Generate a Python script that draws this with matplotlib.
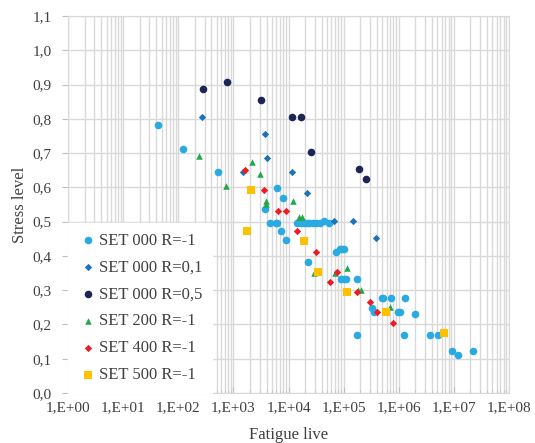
import matplotlib
matplotlib.use("Agg")
import matplotlib.pyplot as plt
from matplotlib.ticker import LogLocator, NullFormatter

# ---- data ----
set000_m1_N = [43, 123, 537, 6170, 7940, 3800, 4570, 6030, 6310, 7410, 9120,
               14500, 16600, 19100, 21400, 24000, 27500, 31600, 38000, 44700, 53700,
               22900, 74100, 85100, 93300, 102000, 89100, 100000, 110000, 178000,
               490000, 525000, 724000, 1290000, 324000, 355000, 955000, 1050000,
               2000000, 178000, 1260000, 3630000, 5250000, 9120000, 12000000, 22400000]
set000_m1_S = [0.782, 0.712, 0.645, 0.597, 0.568, 0.537, 0.497, 0.497, 0.497, 0.474, 0.447,
               0.497, 0.497, 0.497, 0.497, 0.497, 0.497, 0.497, 0.497, 0.503, 0.497,
               0.383, 0.412, 0.419, 0.419, 0.419, 0.332, 0.332, 0.332, 0.332,
               0.277, 0.277, 0.277, 0.277, 0.249, 0.235, 0.235, 0.235,
               0.230, 0.170, 0.170, 0.170, 0.170, 0.123, 0.110, 0.123]

set000_01_N = [275, 3800, 4070, 1480, 11700, 21900, 67600, 151000, 389000]
set000_01_S = [0.804, 0.755, 0.685, 0.644, 0.644, 0.583, 0.502, 0.502, 0.451]

set000_05_N = [285, 776, 3160, 11500, 16600, 25700, 191000, 257000]
set000_05_S = [0.886, 0.907, 0.856, 0.805, 0.805, 0.704, 0.654, 0.624]

set200_N = [238, 724, 2190, 3050, 3980, 3980, 12000, 15500, 17800, 29500, 69200,
            117000, 182000, 204000, 692000]
set200_S = [0.692, 0.604, 0.674, 0.639, 0.561, 0.551, 0.561, 0.514, 0.514, 0.351, 0.351,
            0.366, 0.300, 0.300, 0.250]

set400_N = [1620, 3630, 6380, 8910, 14100, 31600, 75900, 57500, 174000, 295000, 398000, 776000]
set400_S = [0.650, 0.591, 0.532, 0.532, 0.473, 0.412, 0.353, 0.324, 0.295, 0.265, 0.235, 0.205]

set500_N = [2090, 1740, 19500, 34700, 117000, 575000, 6610000]
set500_S = [0.591, 0.474, 0.444, 0.353, 0.296, 0.235, 0.176]

labels = ["SET 000 R=-1", "SET 000 R=0,1", "SET 000 R=0,5",
          "SET 200 R=-1", "SET 400 R=-1", "SET 500 R=-1"]
x_ticklabels = ["1,E+00", "1,E+01", "1,E+02", "1,E+03", "1,E+04",
                "1,E+05", "1,E+06", "1,E+07", "1,E+08"]
y_ticklabels = ["0,0", "0,1", "0,2", "0,3", "0,4", "0,5", "0,6",
                "0,7", "0,8", "0,9", "1,0", "1,1"]

# ---- figure ----
plt.rcParams['font.family'] = ['Liberation Serif', 'DejaVu Serif']
fig = plt.figure(figsize=(5.35, 4.43), dpi=100)
ax = fig.add_axes([68/535, 1-393/443, (509-68)/535, (393-16)/443])

ax.set_xscale('log')
ax.set_xlim(1, 1e8)
ax.set_ylim(0, 1.1)

ax.xaxis.set_minor_locator(LogLocator(base=10, subs=range(2, 10), numticks=200))
ax.xaxis.set_minor_formatter(NullFormatter())
ax.set_xticks([10**i for i in range(9)])
ax.set_xticklabels(x_ticklabels)
ax.set_yticks([i/10 for i in range(12)])
ax.set_yticklabels(y_ticklabels)

ax.grid(True, which='major', color='#D9D9D9', lw=1.0)
ax.grid(True, which='minor', axis='x', color='#D9D9D9', lw=1.0)
ax.set_axisbelow(True)
for s in ax.spines.values():
    s.set_color('#D9D9D9')
ax.tick_params(axis='both', which='both', color='#BFBFBF', labelsize=11, labelcolor='#404040')
ax.tick_params(axis='x', which='major', length=4, direction='in', pad=6)
ax.tick_params(axis='x', which='minor', length=2, direction='in')
ax.tick_params(axis='y', length=4, direction='out', pad=8)

ax.scatter(set000_m1_N, set000_m1_S, marker='o', s=30, color='#29ABE2', lw=0, label=labels[0], zorder=3)
ax.scatter(set000_01_N, set000_01_S, marker='D', s=14, color='#1F72B8', lw=0, label=labels[1], zorder=3)
ax.scatter(set000_05_N, set000_05_S, marker='o', s=30, color='#1B2556', lw=0, label=labels[2], zorder=3)
ax.scatter(set200_N, set200_S, marker='^', s=22, color='#22A84A', lw=0, label=labels[3], zorder=3)
ax.scatter(set400_N, set400_S, marker='D', s=14, color='#EE1C25', lw=0, label=labels[4], zorder=3)
ax.scatter(set500_N, set500_S, marker='s', s=26, color='#FFC000', lw=0, label=labels[5], zorder=3)

leg = ax.legend(loc='lower left', bbox_to_anchor=(0.0, 0.0), borderaxespad=0.0,
                frameon=True, fancybox=False,
                edgecolor='white', facecolor='white', framealpha=1, fontsize=12,
                labelspacing=0.65, handletextpad=0.05, markerscale=1.0, borderpad=0.6,
                handlelength=1.2, labelcolor='#404040')

ax.set_xlabel("Fatigue live", fontsize=12, color='#404040', labelpad=9)
ax.set_ylabel("Stress level", fontsize=12, color='#404040', labelpad=3)

fig.savefig("out.png", dpi=100)
